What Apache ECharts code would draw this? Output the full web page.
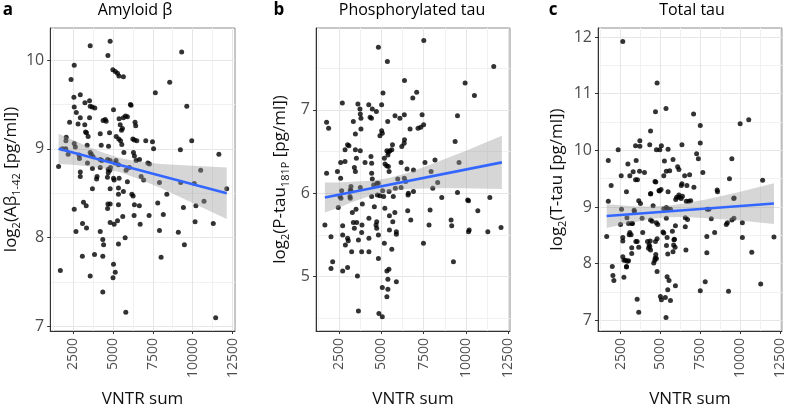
<!DOCTYPE html>
<html><head><meta charset="utf-8">
<script src="https://cdn.jsdelivr.net/npm/echarts@6/dist/echarts.min.js"></script>
<style>html,body{margin:0;padding:0;background:#fff}#c{width:787px;height:413px}</style>
</head><body><div id="c"></div>
<script>
// ---------- data ----------
const xTicks = [2500, 5000, 7500, 10000, 12500];
const xMinor = [1250, 3750, 6250, 8750, 11250];
const ticksA = [7, 8, 9, 10];
const minorA = [7.5, 8.5, 9.5];
const ticksB = [5, 6, 7];
const minorB = [4.5, 5.5, 6.5, 7.5];
const ticksC = [7, 8, 9, 10, 11, 12];
const minorC = [7.5, 8.5, 9.5, 10.5, 11.5];

// Panel a: Amyloid beta
const vntrA = [3580,4830,4690,9310,2580,5000,5150,5290,5380,5660,
2380,8560,7660,2960,2560,3250,3540,9630,6100,6140,
3580,3710,3870,2580,5040,2710,5790,5910,5660,5390,
4520,4580,4390,3540,2960,6390,6430,2290,2820,3240,
5460,5600,5540,3290,3350,3450,4210,4790,5210,5370,
5480,6250,6350,6500,7060,7480,7550,9940,3390,4270,
4730,5560,5690,2080,2060,2580,2650,1840,2050,9230,
11640,6290,6350,3580,3650,3760,2200,2880,2910,4210,
4310,4670,4830,5200,6460,6670,7190,7290,3410,1600,
5140,5350,4850,4710,4810,3720,4210,5830,6040,2960,
2960,4010,4710,5040,5390,6770,10500,5910,7920,9250,
10100,3720,4830,5350,8380,12130,5660,5350,6190,2580,
3160,3330,4690,4830,4670,5350,6350,6660,7810,9420,
10200,10710,2690,3100,3350,4210,4830,5080,5290,5620,
6330,6710,7270,8160,7920,9100,10150,11290,4370,4420,
5350,5770,9480,3090,3850,4370,8020,5040,5150,1710,
3580,5010,4370,5810,11440,3980,4660,5080,6930,6270];
const abeta = [10.16,10.21,10.05,10.09,9.94,9.89,9.87,9.85,9.82,9.81,
9.78,9.75,9.63,9.61,9.58,9.52,9.54,9.48,9.50,9.49,
9.48,9.47,9.46,9.47,9.44,9.41,9.37,9.36,9.35,9.34,
9.33,9.31,9.32,9.35,9.35,9.30,9.26,9.30,9.28,9.27,
9.27,9.23,9.21,9.19,9.18,9.14,9.17,9.18,9.14,9.11,
9.09,9.11,9.10,9.09,9.09,9.08,9.00,9.09,9.04,9.04,
9.03,9.05,8.96,9.13,9.09,9.06,9.02,9.00,9.00,8.99,
8.94,8.96,8.92,8.96,8.94,8.91,8.94,8.93,8.89,8.88,
8.87,8.88,8.87,8.87,8.87,8.88,8.84,8.83,8.84,8.80,
8.84,8.82,8.79,8.77,8.76,8.78,8.79,8.76,8.79,8.74,
8.69,8.69,8.73,8.67,8.67,8.69,8.76,8.63,8.62,8.62,
8.61,8.55,8.55,8.56,8.49,8.55,8.52,8.49,8.49,8.32,
8.40,8.36,8.38,8.38,8.33,8.37,8.37,8.36,8.39,8.34,
8.36,8.41,8.07,8.16,8.11,8.07,8.17,8.15,8.19,8.24,
8.25,8.15,8.25,8.26,8.08,8.06,8.18,8.16,7.98,7.92,
7.93,8.00,7.92,7.79,7.81,7.79,7.78,7.70,7.61,7.63,
7.57,7.55,7.39,7.16,7.10,8.66,8.68,8.65,8.65,8.47];
const fitXA = [1600, 12130];
const fitYA = [9.00, 8.50];
const bandXA = [1600, 2500, 3500, 4500, 5500, 6500, 8000, 10000, 12130];
const bandLoA = [8.83, 8.82, 8.80, 8.78, 8.735, 8.67, 8.56, 8.39, 8.21];
const bandHiA = [9.17, 9.10, 9.02, 8.95, 8.895, 8.86, 8.83, 8.81, 8.79];

// Panel b: Phosphorylated tau
const vntrB = [7510,4830,5360,11640,9950,6370,7090,6860,10500,5100,
2700,3620,3740,3760,4260,5020,4470,4710,3800,4340,
4420,5810,6100,6360,7410,7500,7170,7330,9500,1770,
1890,3350,3800,5380,4920,5060,5020,6700,3470,3010,
3090,2860,3470,3760,5660,5620,5510,6210,6370,6350,
5330,5420,5390,9360,2600,2860,3530,4040,4390,4430,
5180,5220,5320,5420,5460,6170,6520,6900,7580,8170,
9590,1770,2410,2600,3410,3470,4430,4470,4820,5970,
6360,6440,7940,8330,3210,3760,4550,4740,5830,6170,
8040,2660,3210,5080,5460,6600,6900,9500,2560,3150,
4430,4920,5710,8570,11410,1670,2030,2130,2030,2460,
2720,2720,2720,3010,3050,2880,3010,3290,3350,3410,
3250,3550,3650,3510,3590,3650,3880,3860,3840,3840,
4270,4270,4270,4590,4730,4730,4690,4830,4830,4860,
5060,5180,5060,5330,5390,5390,5330,5450,5210,5480,
5480,5620,5680,5800,5890,5890,5890,6560,6740,7490,
7820,7880,9120,9160,9260,10150,10190,10150,10700,11290,
12070,2620,3170,3170,4770,5140,6580,10100];
const ptau = [7.83,7.75,7.58,7.52,7.32,7.35,7.21,7.14,7.17,7.20,
7.08,7.07,7.01,6.95,7.06,7.06,7.01,6.98,6.90,6.91,
6.90,6.93,6.90,6.94,6.94,6.82,6.78,6.79,6.93,6.85,
6.78,6.86,6.77,6.86,6.69,6.72,6.75,6.77,6.71,6.58,
6.57,6.52,6.52,6.51,6.58,6.52,6.51,6.56,6.64,6.60,
6.51,6.49,6.46,6.62,6.37,6.38,6.42,6.37,6.44,6.36,
6.42,6.35,6.33,6.32,6.26,6.37,6.29,6.28,6.37,6.40,
6.37,6.24,6.26,6.18,6.31,6.26,6.24,6.17,6.12,6.17,
6.18,6.14,6.26,6.13,6.08,6.07,6.10,6.12,6.06,6.07,
6.06,6.03,6.03,6.03,6.02,6.00,6.02,6.01,5.96,5.96,
5.96,5.97,5.96,5.95,5.95,5.62,5.48,5.18,5.10,5.83,
5.61,5.50,5.07,5.46,5.43,5.38,5.11,5.77,5.65,5.58,
5.30,5.65,5.44,5.81,5.01,4.59,5.87,5.62,5.53,5.30,
5.70,5.46,5.30,5.84,5.66,5.58,5.62,5.50,5.22,4.56,
4.52,5.40,4.87,4.76,4.85,4.97,5.07,5.09,5.82,5.73,
5.56,5.33,5.66,5.77,5.51,5.54,4.94,5.79,5.68,5.40,
5.62,5.80,5.68,5.61,5.18,5.91,5.56,5.54,5.79,5.54,
5.59,5.94,6.04,5.94,5.98,5.96,5.98,5.92];
const fitXB = [1670, 12120];
const fitYB = [5.95, 6.37];
const bandXB = [1670, 2500, 3500, 4500, 5500, 6500, 8000, 10000, 12120];
const bandLoB = [5.77, 5.83, 5.91, 5.98, 6.02, 6.05, 6.06, 6.06, 6.05];
const bandHiB = [6.13, 6.13, 6.14, 6.15, 6.185, 6.24, 6.35, 6.51, 6.69];

// Panel c: Total tau
const vntrC = [2640,4790,5350,4690,7080,7500,10000,10540,4380,3710,
3440,3710,4330,4750,4960,5060,5480,6350,7500,2350,
1730,9480,7270,7380,2960,3480,5250,5790,2540,3080,
3290,3690,4000,3440,3560,4660,5210,5370,5580,6080,
6160,6520,6830,7100,7660,6310,6350,6660,1910,2870,
4380,4940,5040,5480,8580,9330,11410,9620,6020,6160,
6300,1730,1630,1980,2020,2080,2560,2500,2640,2640,
2640,2710,2710,2870,3000,2900,3000,3080,3160,3200,
3250,3200,3200,3370,3640,3750,3540,3640,3540,3640,
3850,3890,4380,4480,4360,4330,4380,4580,4650,4750,
4540,4750,4830,4790,4690,4790,5000,5060,5160,5210,
5210,5370,5460,5630,5370,5420,5460,5420,5460,5540,
5350,5310,5630,5880,5830,5790,5940,5750,5940,6620,
6770,6560,6700,6560,6600,7500,7810,7910,7910,8400,
7940,9130,9200,9480,9270,10140,10140,10730,11290,12120,
9610,3350,4390,4710,4910,5960,6160,6380,6900,8190,
8040,9600,8560,3040,3460,4190,4290,4250,4710,4670,
5380,5920,5850,2810,2930,2870];
const ttau = [11.92,11.19,10.74,10.68,10.64,10.44,10.47,10.54,10.34,10.17,
10.08,10.07,10.10,10.01,10.01,10.08,10.02,10.10,10.13,10.01,
9.82,9.85,9.94,9.85,9.76,9.82,9.81,9.84,9.55,9.55,
9.62,9.63,9.61,9.48,9.48,9.45,9.55,9.63,9.64,9.71,
9.66,9.55,9.57,9.35,9.61,9.38,9.41,9.38,9.38,9.27,
9.23,9.28,9.31,9.27,9.27,9.50,9.47,9.16,9.17,9.17,
9.15,9.10,8.48,7.95,7.79,7.70,8.96,8.69,8.46,8.40,
8.12,8.06,7.76,7.95,8.05,8.81,8.71,8.55,8.51,8.71,
8.71,8.28,8.18,8.92,9.11,9.06,7.37,7.14,8.39,8.29,
8.80,8.55,8.77,8.75,8.40,8.30,8.24,8.01,8.06,8.09,
9.02,8.72,8.69,8.44,8.39,7.86,7.42,7.36,8.56,8.54,
8.97,8.99,8.97,8.96,8.80,8.46,8.17,7.77,7.54,7.70,
7.05,7.40,7.35,8.43,8.33,8.21,7.61,8.57,8.67,9.10,
9.10,8.81,8.78,8.65,8.24,7.52,7.68,8.48,8.19,8.55,
8.96,8.69,8.72,8.77,7.51,8.72,8.46,8.20,7.64,8.47,
8.80,8.94,9.24,9.44,9.29,9.13,9.21,9.19,9.11,8.79,
8.96,9.15,9.30,8.51,8.39,8.39,8.33,8.27,8.16,8.10,
8.32,8.29,8.42,8.06,8.04,7.94];
const fitXC = [1630, 12120];
const fitYC = [8.84, 9.06];
const bandXC = [1630, 2500, 3500, 4500, 5500, 6500, 8000, 10000, 12120];
const bandLoC = [8.63, 8.68, 8.74, 8.79, 8.82, 8.825, 8.80, 8.76, 8.70];
const bandHiC = [9.05, 9.03, 9.01, 9.01, 9.02, 9.06, 9.14, 9.27, 9.42];

// ---------- chart ----------
const FONT = '"Open Sans", "Noto Sans", sans-serif';
const panels = [
  {left: 50, width: 185, xMin: 1075, xMax: 12650, yMin: 6.95, yMax: 10.36,
   x: vntrA, y: abeta, yTicks: ticksA, yMinor: minorA,
   fitX: fitXA, fitY: fitYA, bX: bandXA, bLo: bandLoA, bHi: bandHiA,
   yName: '{n|log}{s|2}{n|(Aβ}{s|1-42}{n| [pg/ml])}', nameGap: 28,
   title: 'Amyloid β', titleX: 135, letter: 'a', letterX: 8},
  {left: 316, width: 194, xMin: 1145, xMax: 12600, yMin: 4.35, yMax: 7.98,
   x: vntrB, y: ptau, yTicks: ticksB, yMinor: minorB,
   fitX: fitXB, fitY: fitYB, bX: bandXB, bLo: bandLoB, bHi: bandHiB,
   yName: '{n|log}{s|2}{n|(P-tau}{s|181P}{n| [pg/ml])}', nameGap: 26,
   title: 'Phosphorylated tau', titleX: 412, letter: 'b', letterX: 279},
  {left: 598, width: 185, xMin: 1085, xMax: 12620, yMin: 6.81, yMax: 12.16,
   x: vntrC, y: ttau, yTicks: ticksC, yMinor: minorC,
   fitX: fitXC, fitY: fitYC, bX: bandXC, bLo: bandLoC, bHi: bandHiC,
   yName: '{n|log}{s|2}{n|(T-tau [pg/ml])}', nameGap: 31,
   title: 'Total tau', titleX: 692, letter: 'c', letterX: 553}
];

const grid = [], xAxis = [], yAxis = [], series = [], graphic = [];
const fmt = v => String(v);
panels.forEach((p, i) => {
  grid.push({left: p.left, top: 28, width: p.width, height: 305, show: true,
    borderColor: '#8c8c8c', borderWidth: 1, backgroundColor: '#fff'});
  xAxis.push({type: 'value', gridIndex: i, min: p.xMin, max: p.xMax, position: 'bottom',
    axisLine: {show: true, onZero: false, lineStyle: {color: '#333', width: 1}},
    axisTick: {show: true, length: 3, customValues: xTicks, lineStyle: {color: '#333'}},
    axisLabel: {customValues: xTicks, formatter: fmt, rotate: 90, fontSize: 14, color: '#4d4d4d',
      fontFamily: FONT, margin: 7},
    splitLine: {show: true, lineStyle: {color: '#e6e6e6', width: 1}},
    name: 'VNTR sum', nameLocation: 'middle', nameGap: 60,
    nameTextStyle: {fontSize: 17, color: '#111', fontFamily: FONT}});
  xAxis.push({type: 'value', gridIndex: i, min: p.xMin, max: p.xMax, position: 'top',
    axisLine: {show: false}, axisTick: {show: false, customValues: xMinor},
    axisLabel: {show: false}, splitLine: {show: true, lineStyle: {color: '#f1f1f1', width: 1}}});
  yAxis.push({type: 'value', gridIndex: i, min: p.yMin, max: p.yMax, position: 'left',
    axisLine: {show: true, onZero: false, lineStyle: {color: '#333', width: 1}},
    axisTick: {show: true, length: 3, customValues: p.yTicks, lineStyle: {color: '#333'}},
    axisLabel: {customValues: p.yTicks, formatter: fmt, fontSize: 16, color: '#4d4d4d',
      fontFamily: FONT, margin: 6},
    splitLine: {show: true, lineStyle: {color: '#e6e6e6', width: 1}},
    name: p.yName, nameLocation: 'middle', nameRotate: 90, nameGap: p.nameGap,
    nameTextStyle: {color: '#111', fontFamily: FONT, fontSize: 17,
      rich: {
        n: {fontSize: 17, lineHeight: 20, fontFamily: FONT, color: '#111'},
        s: {fontSize: 11, lineHeight: 11, fontFamily: FONT, color: '#111', verticalAlign: 'top', padding: [10, 0, 0, 0]}
      }}});
  yAxis.push({type: 'value', gridIndex: i, min: p.yMin, max: p.yMax, position: 'right',
    axisLine: {show: false}, axisTick: {show: false, customValues: p.yMinor},
    axisLabel: {show: false}, splitLine: {show: true, lineStyle: {color: '#f1f1f1', width: 1}}});

  const ax = 2 * i;
  series.push({type: 'scatter', xAxisIndex: ax, yAxisIndex: ax, silent: true, z: 2,
    symbolSize: 5, itemStyle: {color: '#000'},
    data: p.x.map((v, k) => [v, p.y[k]])});
  series.push({type: 'custom', xAxisIndex: ax, yAxisIndex: ax, silent: true, z: 3,
    data: [[p.bX[0], p.bLo[0]]],
    renderItem: function (params, api) {
      const pts = [];
      for (let k = 0; k < p.bX.length; k++) pts.push(api.coord([p.bX[k], p.bHi[k]]));
      for (let k = p.bX.length - 1; k >= 0; k--) pts.push(api.coord([p.bX[k], p.bLo[k]]));
      return {type: 'polygon', shape: {points: pts}, style: {fill: 'rgba(153,153,153,0.4)', stroke: null}};
    }});
  series.push({type: 'line', xAxisIndex: ax, yAxisIndex: ax, silent: true, z: 4,
    symbol: 'none', lineStyle: {color: '#3366FF', width: 2.6},
    data: p.fitX.map((v, k) => [v, p.fitY[k]])});

  graphic.push({type: 'text', x: p.titleX, y: 10, silent: true,
    style: {text: p.title, fontSize: 16, fontFamily: FONT, fill: '#000', align: 'center', verticalAlign: 'middle'}});
  graphic.push({type: 'text', x: p.letterX, y: 10, silent: true,
    style: {text: p.letter, fontSize: 17, fontWeight: 'bold', fontFamily: FONT, fill: '#000', align: 'center', verticalAlign: 'middle'}});
});

const chart = echarts.init(document.getElementById('c'), null, {renderer: 'canvas'});
chart.setOption({animation: false, backgroundColor: '#fff', grid, xAxis, yAxis, series, graphic});
</script>
</body></html>
